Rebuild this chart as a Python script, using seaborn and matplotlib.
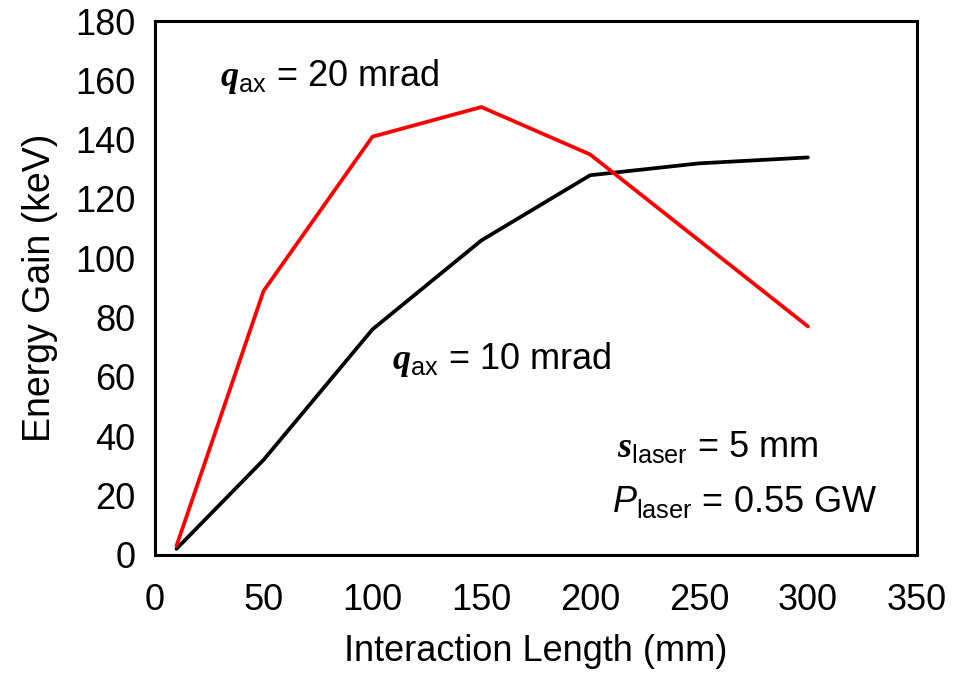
import matplotlib
matplotlib.use("Agg")
import matplotlib.pyplot as plt
import seaborn as sns
import pandas as pd

length = [10, 50, 100, 150, 200, 250, 300]
gain_10mrad = [2, 32, 76, 106, 128, 132, 134]
gain_20mrad = [3, 89, 141, 151, 135, 106, 77]

x_ticks = [0, 50, 100, 150, 200, 250, 300, 350]
y_ticks = [0, 20, 40, 60, 80, 100, 120, 140, 160, 180]

sns.set_style("white")
plt.rcParams["font.family"] = ["Liberation Sans", "DejaVu Sans"]
plt.rcParams["text.color"] = "black"
plt.rcParams["axes.labelcolor"] = "black"
plt.rcParams["xtick.color"] = "black"
plt.rcParams["ytick.color"] = "black"
plt.rcParams["mathtext.fontset"] = "custom"
plt.rcParams["mathtext.rm"] = "Liberation Sans"
plt.rcParams["mathtext.it"] = "Liberation Sans:italic"
plt.rcParams["mathtext.bf"] = "Liberation Serif:bold:italic"

df = pd.DataFrame({
    "length": length * 2,
    "gain": gain_10mrad + gain_20mrad,
    "angle": ["10"] * len(length) + ["20"] * len(length),
})

fig = plt.figure(figsize=(9.61, 6.79), dpi=100)
ax = fig.add_axes([0.161, 0.183, 0.793, 0.786])

sns.lineplot(data=df, x="length", y="gain", hue="angle",
             palette={"10": "black", "20": "#ff0000"},
             linewidth=2.7, legend=False, ax=ax)

ax.set_xlim(0, 350)
ax.set_ylim(0, 180)
ax.set_xticks(x_ticks)
ax.set_yticks(y_ticks)
ax.tick_params(direction="in", length=7, width=1.2, labelsize=26)
ax.tick_params(axis="y", pad=14)
ax.tick_params(axis="x", pad=20)
for sp in ax.spines.values():
    sp.set_linewidth(2.2)
    sp.set_color("black")

ax.set_xlabel("Interaction Length (mm)", fontsize=26, labelpad=12)
ax.set_ylabel("Energy Gain (keV)", fontsize=27, labelpad=12)

ax.text(30, 158, r"$\mathbf{q}_{\mathrm{ax}}$ = 20 mrad", fontsize=26)
ax.text(109, 62.5, r"$\mathbf{q}_{\mathrm{ax}}$ = 10 mrad", fontsize=26)
ax.text(212.5, 33, r"$\mathbf{s}_{\mathrm{laser}}$ = 5 mm", fontsize=26)
ax.text(210, 14.5, r"$\mathit{P}_{\mathrm{laser}}$ = 0.55 GW", fontsize=26)

fig.savefig("out.png", dpi=100)
